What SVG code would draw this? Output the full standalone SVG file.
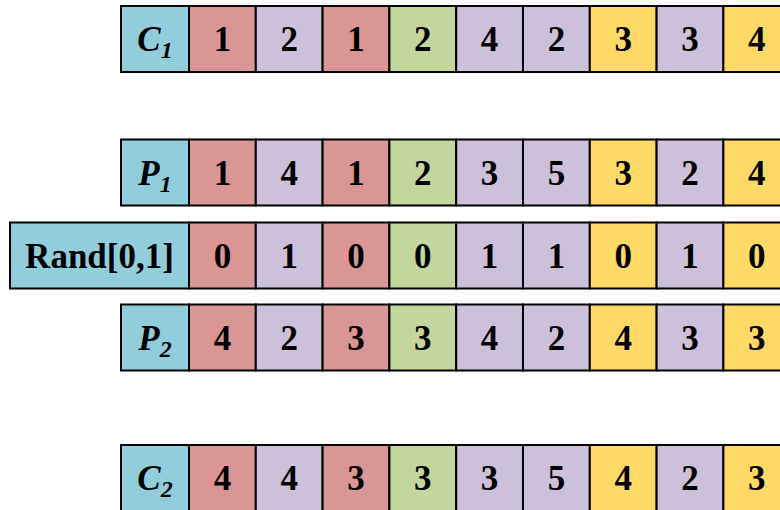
<svg xmlns="http://www.w3.org/2000/svg" width="780" height="510" viewBox="0 0 780 510">
<style>
rect{stroke:#000;stroke-width:2}
.l{fill:#92CDDC}.r{fill:#DA9694}.p{fill:#CCC0DA}.g{fill:#C3D69B}.y{fill:#FFD966}
text{font-family:"Liberation Serif","Times New Roman",serif;font-weight:bold;font-size:35px;text-anchor:middle;fill:#000}
.it{font-style:italic}
</style>
<rect x="0" y="0" width="780" height="510" style="fill:#fff;stroke:none"/>
<g id="connectors"/>
<g id="row-C1">
<g id="C1-label"><rect class="l" x="121" y="6" width="68" height="66"/><text class="it" x="155" y="51">C<tspan font-size="24" dy="7">1</tspan></text></g>
<g id="C1-1"><rect class="r" x="189" y="6" width="66.8" height="66"/><text x="222.4" y="51">1</text></g>
<g id="C1-2"><rect class="p" x="255.8" y="6" width="66.8" height="66"/><text x="289.2" y="51">2</text></g>
<g id="C1-3"><rect class="r" x="322.6" y="6" width="66.8" height="66"/><text x="356" y="51">1</text></g>
<g id="C1-4"><rect class="g" x="389.4" y="6" width="66.8" height="66"/><text x="422.8" y="51">2</text></g>
<g id="C1-5"><rect class="p" x="456.2" y="6" width="66.8" height="66"/><text x="489.6" y="51">4</text></g>
<g id="C1-6"><rect class="p" x="523" y="6" width="66.8" height="66"/><text x="556.4" y="51">2</text></g>
<g id="C1-7"><rect class="y" x="589.8" y="6" width="66.8" height="66"/><text x="623.2" y="51">3</text></g>
<g id="C1-8"><rect class="p" x="656.6" y="6" width="66.8" height="66"/><text x="690" y="51">3</text></g>
<g id="C1-9"><rect class="y" x="723.4" y="6" width="66.8" height="66"/><text x="756.8" y="51">4</text></g>
</g>
<g id="row-P1">
<g id="P1-label"><rect class="l" x="121" y="139.5" width="68" height="66"/><text class="it" x="155" y="184.5">P<tspan font-size="24" dy="7">1</tspan></text></g>
<g id="P1-1"><rect class="r" x="189" y="139.5" width="66.8" height="66"/><text x="222.4" y="184.5">1</text></g>
<g id="P1-2"><rect class="p" x="255.8" y="139.5" width="66.8" height="66"/><text x="289.2" y="184.5">4</text></g>
<g id="P1-3"><rect class="r" x="322.6" y="139.5" width="66.8" height="66"/><text x="356" y="184.5">1</text></g>
<g id="P1-4"><rect class="g" x="389.4" y="139.5" width="66.8" height="66"/><text x="422.8" y="184.5">2</text></g>
<g id="P1-5"><rect class="p" x="456.2" y="139.5" width="66.8" height="66"/><text x="489.6" y="184.5">3</text></g>
<g id="P1-6"><rect class="p" x="523" y="139.5" width="66.8" height="66"/><text x="556.4" y="184.5">5</text></g>
<g id="P1-7"><rect class="y" x="589.8" y="139.5" width="66.8" height="66"/><text x="623.2" y="184.5">3</text></g>
<g id="P1-8"><rect class="p" x="656.6" y="139.5" width="66.8" height="66"/><text x="690" y="184.5">2</text></g>
<g id="P1-9"><rect class="y" x="723.4" y="139.5" width="66.8" height="66"/><text x="756.8" y="184.5">4</text></g>
</g>
<g id="row-Rand">
<g id="Rand-label"><rect class="l" x="10" y="222.5" width="179" height="66"/><text x="99.5" y="267.5">Rand[0,1]</text></g>
<g id="Rand-1"><rect class="r" x="189" y="222.5" width="66.8" height="66"/><text x="222.4" y="267.5">0</text></g>
<g id="Rand-2"><rect class="p" x="255.8" y="222.5" width="66.8" height="66"/><text x="289.2" y="267.5">1</text></g>
<g id="Rand-3"><rect class="r" x="322.6" y="222.5" width="66.8" height="66"/><text x="356" y="267.5">0</text></g>
<g id="Rand-4"><rect class="g" x="389.4" y="222.5" width="66.8" height="66"/><text x="422.8" y="267.5">0</text></g>
<g id="Rand-5"><rect class="p" x="456.2" y="222.5" width="66.8" height="66"/><text x="489.6" y="267.5">1</text></g>
<g id="Rand-6"><rect class="p" x="523" y="222.5" width="66.8" height="66"/><text x="556.4" y="267.5">1</text></g>
<g id="Rand-7"><rect class="y" x="589.8" y="222.5" width="66.8" height="66"/><text x="623.2" y="267.5">0</text></g>
<g id="Rand-8"><rect class="p" x="656.6" y="222.5" width="66.8" height="66"/><text x="690" y="267.5">1</text></g>
<g id="Rand-9"><rect class="y" x="723.4" y="222.5" width="66.8" height="66"/><text x="756.8" y="267.5">0</text></g>
</g>
<g id="row-P2">
<g id="P2-label"><rect class="l" x="121" y="304.5" width="68" height="66"/><text class="it" x="155" y="349.5">P<tspan font-size="24" dy="7">2</tspan></text></g>
<g id="P2-1"><rect class="r" x="189" y="304.5" width="66.8" height="66"/><text x="222.4" y="349.5">4</text></g>
<g id="P2-2"><rect class="p" x="255.8" y="304.5" width="66.8" height="66"/><text x="289.2" y="349.5">2</text></g>
<g id="P2-3"><rect class="r" x="322.6" y="304.5" width="66.8" height="66"/><text x="356" y="349.5">3</text></g>
<g id="P2-4"><rect class="g" x="389.4" y="304.5" width="66.8" height="66"/><text x="422.8" y="349.5">3</text></g>
<g id="P2-5"><rect class="p" x="456.2" y="304.5" width="66.8" height="66"/><text x="489.6" y="349.5">4</text></g>
<g id="P2-6"><rect class="p" x="523" y="304.5" width="66.8" height="66"/><text x="556.4" y="349.5">2</text></g>
<g id="P2-7"><rect class="y" x="589.8" y="304.5" width="66.8" height="66"/><text x="623.2" y="349.5">4</text></g>
<g id="P2-8"><rect class="p" x="656.6" y="304.5" width="66.8" height="66"/><text x="690" y="349.5">3</text></g>
<g id="P2-9"><rect class="y" x="723.4" y="304.5" width="66.8" height="66"/><text x="756.8" y="349.5">3</text></g>
</g>
<g id="row-C2">
<g id="C2-label"><rect class="l" x="121" y="445" width="68" height="66"/><text class="it" x="155" y="490">C<tspan font-size="24" dy="7">2</tspan></text></g>
<g id="C2-1"><rect class="r" x="189" y="445" width="66.8" height="66"/><text x="222.4" y="490">4</text></g>
<g id="C2-2"><rect class="p" x="255.8" y="445" width="66.8" height="66"/><text x="289.2" y="490">4</text></g>
<g id="C2-3"><rect class="r" x="322.6" y="445" width="66.8" height="66"/><text x="356" y="490">3</text></g>
<g id="C2-4"><rect class="g" x="389.4" y="445" width="66.8" height="66"/><text x="422.8" y="490">3</text></g>
<g id="C2-5"><rect class="p" x="456.2" y="445" width="66.8" height="66"/><text x="489.6" y="490">3</text></g>
<g id="C2-6"><rect class="p" x="523" y="445" width="66.8" height="66"/><text x="556.4" y="490">5</text></g>
<g id="C2-7"><rect class="y" x="589.8" y="445" width="66.8" height="66"/><text x="623.2" y="490">4</text></g>
<g id="C2-8"><rect class="p" x="656.6" y="445" width="66.8" height="66"/><text x="690" y="490">2</text></g>
<g id="C2-9"><rect class="y" x="723.4" y="445" width="66.8" height="66"/><text x="756.8" y="490">3</text></g>
</g>
</svg>
